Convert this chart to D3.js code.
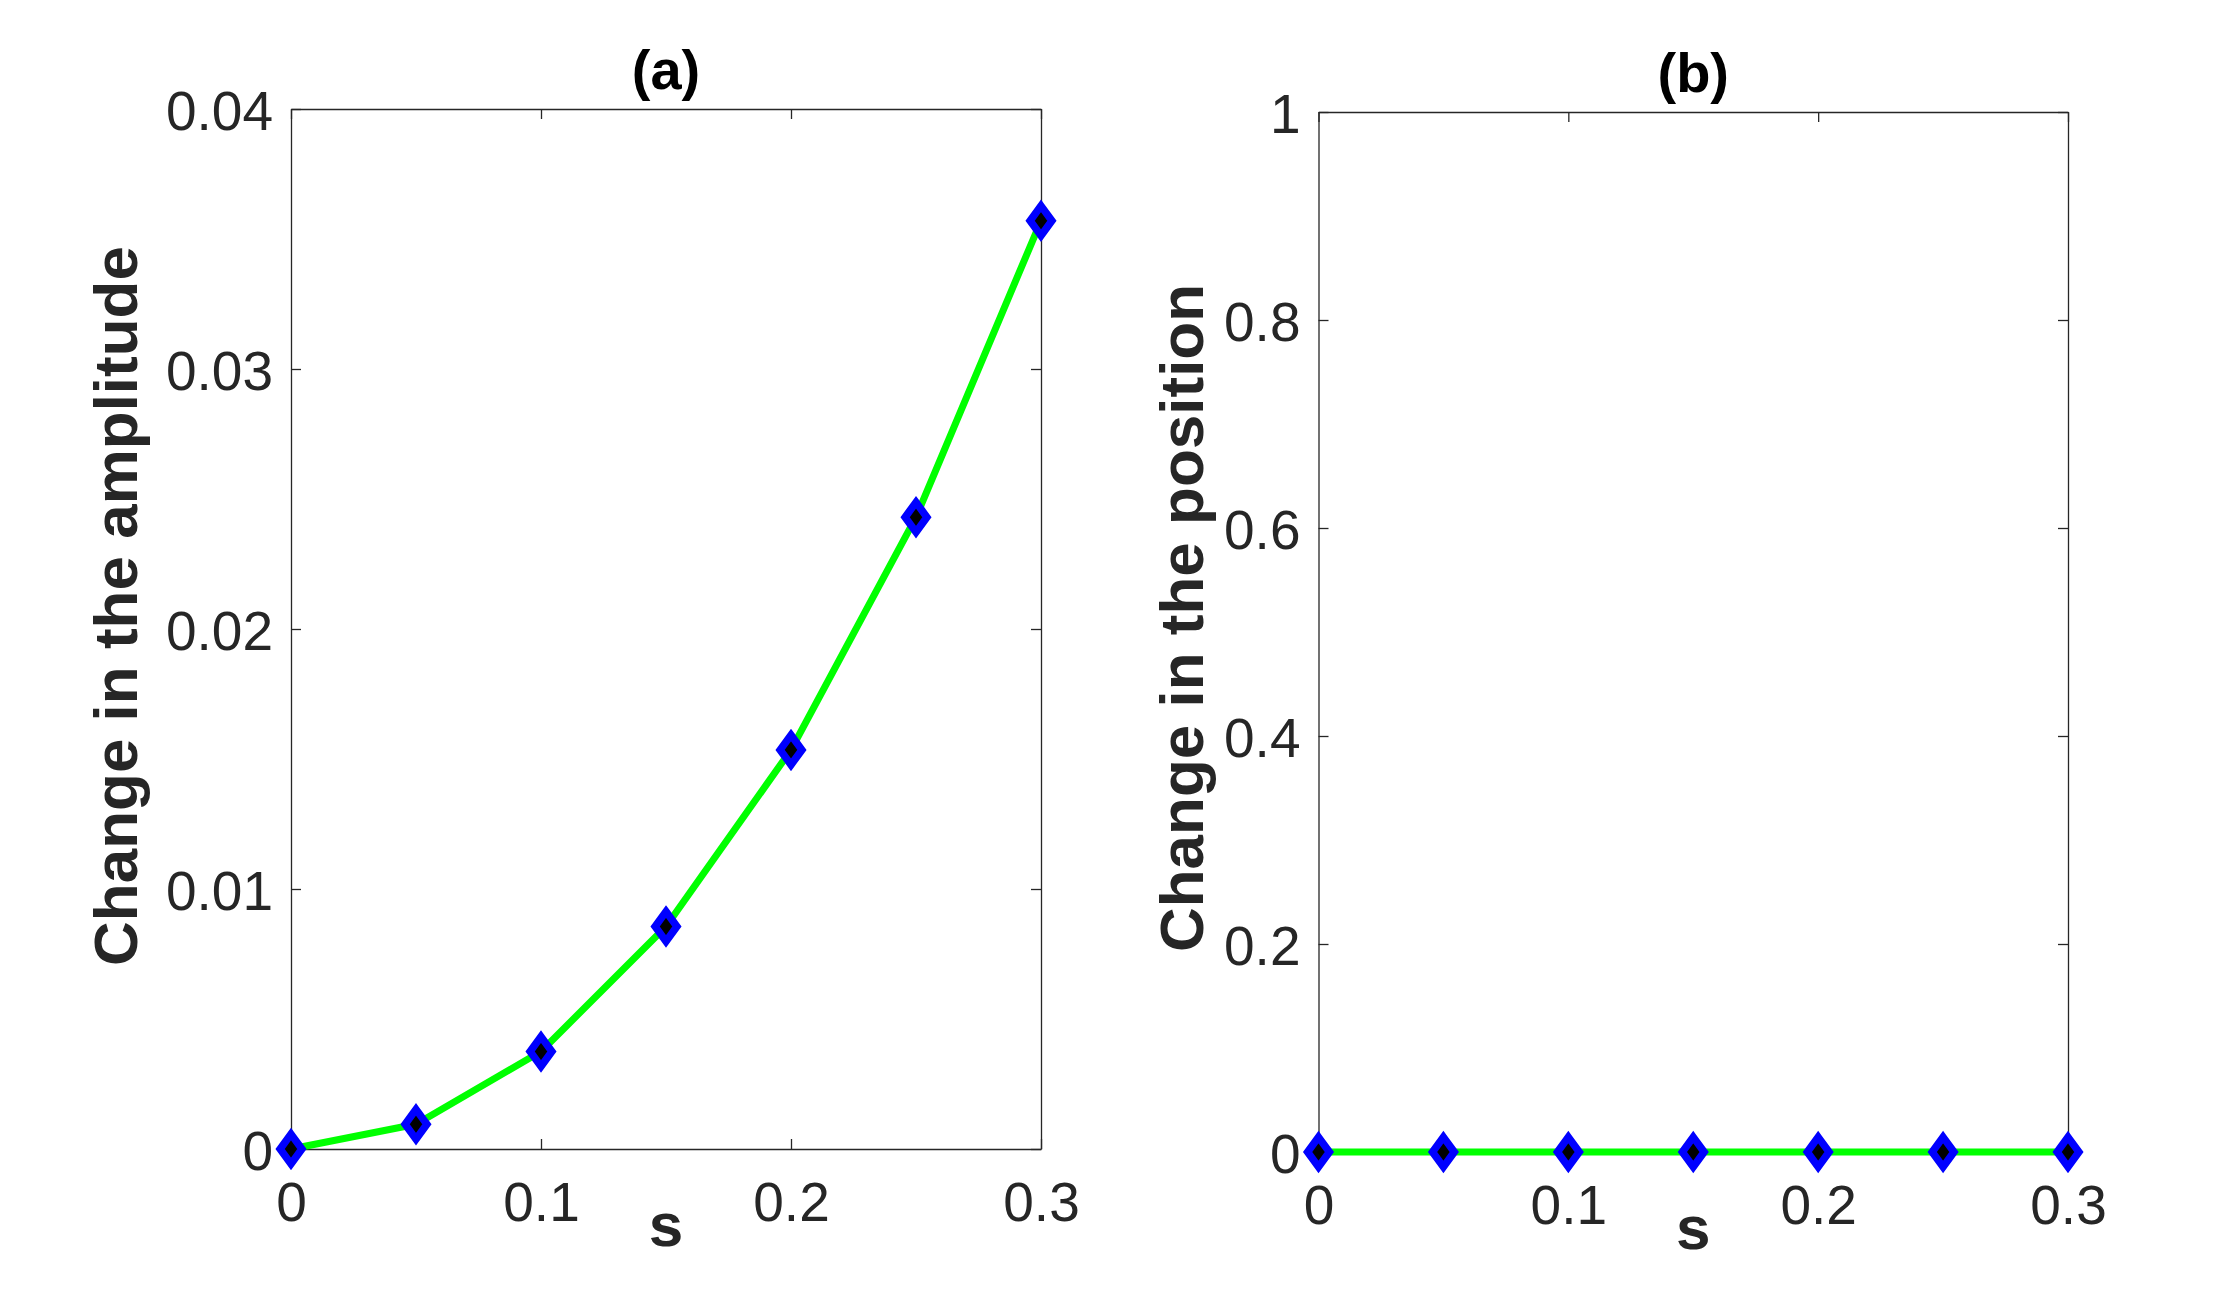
<!DOCTYPE html>
<html>
<head>
<meta charset="utf-8">
<script src="https://cdn.jsdelivr.net/npm/d3@7"></script>
<style>
  body { margin: 0; background: #fff; }
  svg { display: block; }
</style>
</head>
<body>
<div id="chart"></div>
<script>
// values
const sValues = [0, 0.05, 0.1, 0.15, 0.2, 0.25, 0.3];
const amplitudeChange = [0, 0.00095, 0.00375, 0.00856, 0.01535, 0.0243, 0.0357];
const positionChange = [0, 0, 0, 0, 0, 0, 0];

const xTicks = [0, 0.1, 0.2, 0.3];
const xTickLabels = ['0', '0.1', '0.2', '0.3'];
const yTicksA = [0, 0.01, 0.02, 0.03, 0.04];
const yTickLabelsA = ['0', '0.01', '0.02', '0.03', '0.04'];
const yTicksB = [0, 0.2, 0.4, 0.6, 0.8, 1];
const yTickLabelsB = ['0', '0.2', '0.4', '0.6', '0.8', '1'];

const width = 2240;
const height = 1291;
const axisColor = '#262626';
const font = '"Liberation Sans", Arial, Helvetica, sans-serif';

const svg = d3.select('#chart')
    .append('svg')
    .attr('width', width)
    .attr('height', height);

svg.append('rect')
    .attr('width', width)
    .attr('height', height)
    .attr('fill', '#fff');

const panels = [
    {
        title: '(a)', ylabel: 'Change in the amplitude',
        values: amplitudeChange, yDomain: [0, 0.04],
        yTicks: yTicksA, yTickLabels: yTickLabelsA,
        left: 291, right: 1041, top: 109, bottom: 1149,
        labelX: 137, labelY: 606
    },
    {
        title: '(b)', ylabel: 'Change in the position',
        values: positionChange, yDomain: [0, 1],
        yTicks: yTicksB, yTickLabels: yTickLabelsB,
        left: 1318.5, right: 2068, top: 112, bottom: 1152,
        labelX: 1203, labelY: 618
    }
];

// tall diamond, MATLAB 'd' marker
const diamond = (a, b) => `M0,${-b}L${a},0L0,${b}L${-a},0Z`;

panels.forEach(p => {
    const x = d3.scaleLinear().domain([0, 0.3]).range([p.left, p.right]);
    const y = d3.scaleLinear().domain(p.yDomain).range([p.bottom, p.top]);

    const g = svg.append('g');

    const xAxis = d3.axisBottom(x)
        .tickValues(xTicks)
        .tickFormat((d, i) => xTickLabels[i])
        .tickSizeInner(-10)
        .tickSizeOuter(0)
        .tickPadding(33);

    const yAxis = d3.axisLeft(y)
        .tickValues(p.yTicks)
        .tickFormat((d, i) => p.yTickLabels[i])
        .tickSizeInner(-10)
        .tickSizeOuter(0)
        .tickPadding(18);

    const topAxis = d3.axisTop(x).tickValues(xTicks).tickFormat('').tickSizeInner(-10).tickSizeOuter(0);
    const rightAxis = d3.axisRight(y).tickValues(p.yTicks).tickFormat('').tickSizeInner(-10).tickSizeOuter(0);

    g.append('g').attr('transform', `translate(0,${p.bottom})`).call(xAxis);
    g.append('g').attr('transform', `translate(${p.left},0)`).call(yAxis);
    g.append('g').attr('transform', `translate(0,${p.top})`).call(topAxis);
    g.append('g').attr('transform', `translate(${p.right},0)`).call(rightAxis);

    g.selectAll('.domain, .tick line')
        .attr('stroke', axisColor)
        .attr('stroke-width', 1.3);

    g.selectAll('.tick text')
        .attr('fill', axisColor)
        .style('font-family', font)
        .style('font-size', '55px');

    g.selectAll('.tick text')
        .filter(function() { return d3.select(this.parentNode.parentNode).attr('transform').startsWith(`translate(${p.left}`); })
        .attr('dy', '0.37em');

    // data line
    const line = d3.line()
        .x((d, i) => x(sValues[i]))
        .y(d => y(d));

    g.append('path')
        .datum(p.values)
        .attr('d', line)
        .attr('fill', 'none')
        .attr('stroke', '#00ff00')
        .attr('stroke-width', 7)
        .attr('stroke-linejoin', 'round');

    g.selectAll('.marker')
        .data(p.values)
        .enter()
        .append('path')
        .attr('class', 'marker')
        .attr('transform', (d, i) => `translate(${x(sValues[i])},${y(d)})`)
        .attr('d', diamond(10.9, 14.9))
        .attr('fill', '#000')
        .attr('stroke', '#0000ff')
        .attr('stroke-width', 7.5)
        .attr('stroke-linejoin', 'miter')
        .attr('stroke-miterlimit', 10);

    // title
    g.append('text')
        .attr('x', (p.left + p.right) / 2)
        .attr('y', p.top - 20)
        .attr('text-anchor', 'middle')
        .attr('fill', '#000')
        .style('font-family', font)
        .style('font-weight', 'bold')
        .style('font-size', '56px')
        .text(p.title);

    // x label
    g.append('text')
        .attr('x', (p.left + p.right) / 2)
        .attr('y', p.bottom + 97)
        .attr('text-anchor', 'middle')
        .attr('fill', axisColor)
        .style('font-family', font)
        .style('font-weight', 'bold')
        .style('font-size', '62px')
        .text('s');

    // y label
    g.append('text')
        .attr('transform', `translate(${p.labelX},${p.labelY}) rotate(-90)`)
        .attr('text-anchor', 'middle')
        .attr('fill', axisColor)
        .style('font-family', font)
        .style('font-weight', 'bold')
        .style('font-size', '62px')
        .text(p.ylabel);
});
</script>
</body>
</html>
